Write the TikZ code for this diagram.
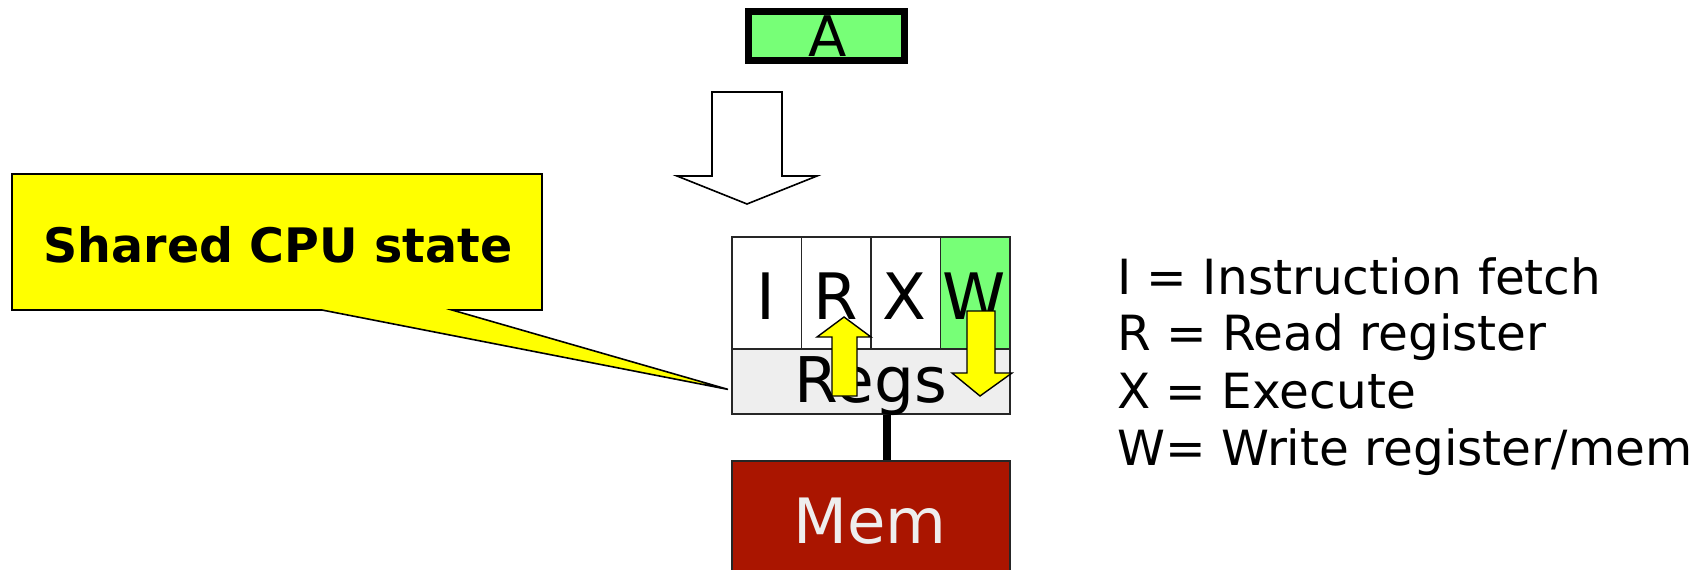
\documentclass[tikz,border=0pt]{standalone}
\usepackage{fontspec}
\setmainfont{DejaVu Sans}
\usetikzlibrary{calc}
\definecolor{stagegreen}{RGB}{119,255,119}
\definecolor{memred}{RGB}{170,21,0}
\definecolor{regsgray}{RGB}{238,238,238}
\definecolor{callyellow}{RGB}{255,255,0}
\begin{document}
\begin{tikzpicture}[x=1pt,y=-1pt,
  cellbox/.style={draw=black!85, line width=1.8pt, minimum width=69.5pt, minimum height=112pt, inner sep=0pt, anchor=north west},
  stagetext/.style={anchor=base, inner sep=0pt, font=\fontsize{64}{70}\selectfont},
  legendtext/.style={anchor=base west, inner sep=0pt, font=\fontsize{48.5}{57}\selectfont},
  blockarrow/.style={draw=black, line width=1.6pt, fill=white, line join=miter},
  yarrow/.style={draw=black, line width=1.4pt, fill=callyellow, line join=miter}]
\useasboundingbox (0,0) rectangle (1706,570);
% instruction A
\node[draw=black, line width=7pt, fill=stagegreen, minimum width=156pt, minimum height=49pt, inner sep=0pt] (Abox) at (826.5,36) {};
\node[anchor=base, inner sep=0pt, font=\fontsize{56}{60}\selectfont] (Atext) at (828,56) {A};
% big block arrow
\draw[blockarrow] (712,92) -- (782,92) -- (782,176) -- (817,176) -- (747,204) -- (677,176) -- (712,176) -- cycle;
% pipeline stages
\node[cellbox] (cI) at (731,236) {};
\node[cellbox] (cR) at (800.5,236) {};
\node[cellbox] (cX) at (870,236) {};
\node[cellbox, fill=stagegreen] (cW) at (939.5,236) {};
\node[cellbox, fill=regsgray, minimum width=278pt, minimum height=65pt] (Regs) at (731,348) {};
\node[cellbox, fill=memred, minimum width=278pt, minimum height=125pt] (Mem) at (731,460) {};
\node[stagetext] (tI) at (765.75,319) {I};
\node[stagetext] (tR) at (835.25,319) {R};
\node[stagetext] (tX) at (904.75,319) {X};
\node[stagetext] (tW) at (974.25,319) {W};
\node[anchor=base, inner sep=0pt, font=\fontsize{63}{66}\selectfont] (tRegs) at (871,402) {Regs};
\node[anchor=base, inner sep=0pt, text=regsgray, font=\fontsize{62.5}{66}\selectfont] (tMem) at (870,543) {Mem};
% regs-mem link
\draw[line width=8pt] ($(Regs.south)+(16,0)$) -- ($(Mem.north)+(16,0)$);
% yellow arrows
\draw[yarrow] (832,396) -- (832,337) -- (817,337) -- (844,317) -- (871,337) -- (857,337) -- (857,396) -- cycle;
\draw[yarrow] (967,311) -- (995,311) -- (995,373) -- (1012,373) -- (980,396) -- (952,373) -- (967,373) -- cycle;
% callout
\coordinate (tip) at ($(Regs.west)+(-3,8)$);
\draw[draw=black, line width=1.6pt, fill=callyellow, line join=miter] (12,174) -- (542,174) -- (542,310) -- (452,310) -- (tip) -- (322,310) -- (12,310) -- cycle;
\node[anchor=base, inner sep=0pt, font=\bfseries\fontsize{47.5}{52}\selectfont] (ctext) at (278,262) {Shared CPU state};
% legend
\node[legendtext] (l1) at (1117,294) {I = Instruction fetch};
\node[legendtext] (l2) at (1117,350) {R = Read register};
\node[legendtext] (l3) at (1117,408) {X = Execute};
\node[legendtext] (l4) at (1117,465) {W= Write register/mem};
\end{tikzpicture}
\end{document}
